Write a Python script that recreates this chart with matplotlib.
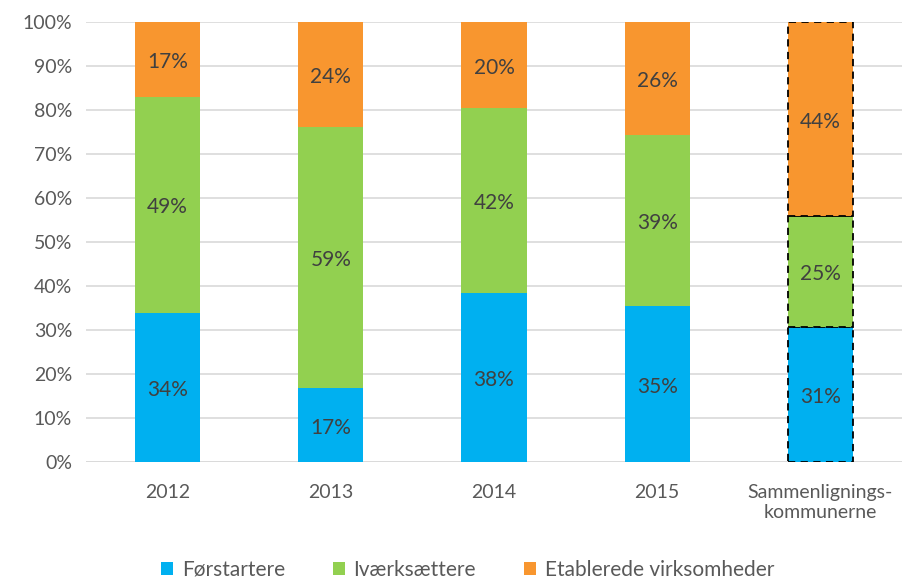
import numpy as np
import matplotlib.pyplot as plt

plt.rcParams['font.family'] = ['Lato', 'DejaVu Sans']

kategorier = ['2012', '2013', '2014', '2015', 'Sammenlignings-\nkommunerne']
forstartere = [33.9, 16.8, 38.4, 35.4, 30.6]
ivaerksaettere = [49.1, 59.3, 42.1, 38.9, 25.3]
etablerede = [17.0, 23.9, 19.5, 25.7, 44.1]
serier = ['Førstartere', 'Iværksættere', 'Etablerede virksomheder']
farver = ['#00B0F0', '#92D050', '#F8962F']

fig = plt.figure(figsize=(9.02, 5.78), dpi=100)
ax = fig.add_axes([86 / 902, 1 - 462 / 578, 816 / 902, 440 / 578])

x = np.arange(len(kategorier))
bund = np.zeros(len(kategorier))
for navn, vaerdier, farve in zip(serier, [forstartere, ivaerksaettere, etablerede], farver):
    v = np.array(vaerdier)
    bars = ax.bar(x, v, width=0.4, bottom=bund, color=farve, label=navn, zorder=2)
    # sidste søjle har stiplet kant
    bars[-1].set_edgecolor('black')
    bars[-1].set_linestyle((0, (4, 3)))
    bars[-1].set_linewidth(1.3)
    for xi, b, h in zip(x, bund, v):
        ax.text(xi, b + h / 2 - 0.6, f'{round(h):.0f}%', ha='center', va='center',
                fontsize=15, color='#404040', zorder=3)
    bund += v

ax.set_xlim(-0.5, 4.5)
ax.set_ylim(0, 100)
ax.set_yticks(np.arange(0, 101, 10))
ax.set_yticklabels([f'{t}%' for t in range(0, 101, 10)])
ax.set_xticks(x)
ax.set_xticklabels(kategorier)
ax.tick_params(axis='both', length=0, labelsize=14, labelcolor='#595959')
ax.tick_params(axis='x', pad=16)
ax.tick_params(axis='y', pad=10)
ax.grid(axis='y', color='#D9D9D9', linewidth=1.2, zorder=0)
for s in ax.spines.values():
    s.set_visible(False)
ax.axhline(0, color='#D9D9D9', linewidth=1.2, zorder=1)

ax.legend(loc='center', bbox_to_anchor=(0.4675, -0.245), ncol=3, frameon=False,
          fontsize=15, labelcolor='#595959', handlelength=0.6, handleheight=0.6,
          handletextpad=0.4, columnspacing=2.3)

fig.savefig('out.png', dpi=100)
